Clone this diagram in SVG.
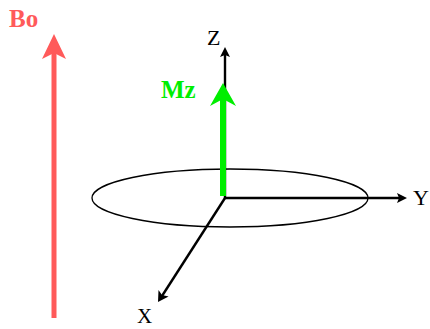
<svg xmlns="http://www.w3.org/2000/svg" width="430" height="329" viewBox="0 0 430 329">
<defs>
<style>
.ax{stroke:#000;stroke-width:2.4;fill:none}
.lbl{font-family:"Liberation Serif","Times New Roman",serif;font-size:22px;fill:#000}
.bold{font-weight:bold;font-size:25px}
</style>
</defs>
<rect width="430" height="329" fill="#fff"/>
<g id="ellipse"><ellipse cx="230" cy="198" rx="138" ry="29" fill="none" stroke="#000" stroke-width="1.3"/></g>
<g id="connectors">
<g id="bo-arrow">
<line x1="54" y1="318" x2="54" y2="52" stroke="#ff5a5a" stroke-width="5"/>
<polygon points="54,34 66,59 54,53 42,59" fill="#ff5a5a"/>
</g>
<g id="z-axis">
<line class="ax" x1="225" y1="198" x2="225" y2="54"/>
<polygon points="225,47 230,57 225,55 220,57" fill="#000"/>
</g>
<g id="y-axis">
<line class="ax" x1="225" y1="198" x2="400" y2="198"/>
<polygon points="407,198 397,203 399,198 397,193" fill="#000"/>
</g>
<g id="x-axis">
<line class="ax" x1="225" y1="198" x2="162" y2="296"/>
<polygon points="158,302 158.5,290 162,295 168.6,296.5" fill="#000"/>
</g>
<g id="mz-arrow">
<line x1="223" y1="196" x2="223" y2="98" stroke="#00ee00" stroke-width="6"/>
<polygon points="223,83 236,106 223,99 210,106" fill="#00ee00"/>
</g>
</g>
<g id="bo-label"><text class="lbl bold" x="9" y="27" style="fill:#ff5a5a">Bo</text></g>
<g id="mz-label"><text class="lbl bold" x="161" y="98" style="fill:#00ee00">Mz</text></g>
<g id="z-label"><text class="lbl" x="207" y="45">Z</text></g>
<g id="y-label"><text class="lbl" x="413" y="205">Y</text></g>
<g id="x-label"><text class="lbl" x="137" y="323" style="font-size:21px">X</text></g>
</svg>
